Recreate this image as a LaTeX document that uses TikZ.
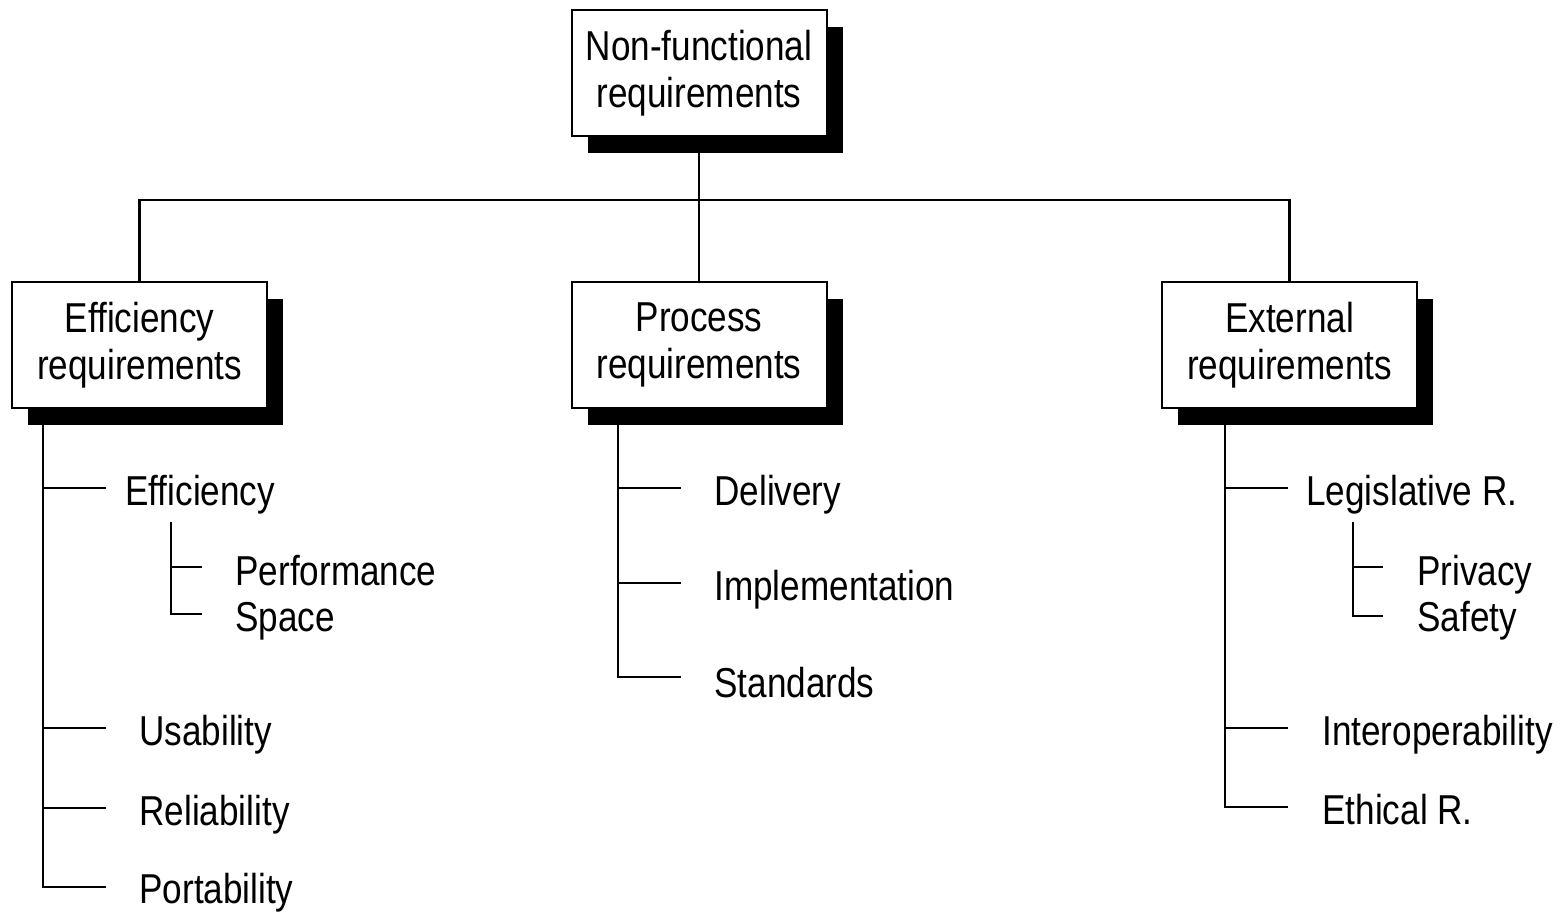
\documentclass[tikz,border=0pt]{standalone}
\usepackage{fontspec}
\setmainfont{Liberation Sans}[FakeStretch=0.84]
\usetikzlibrary{shadows}
\begin{document}
\begin{tikzpicture}[x=0.5pt,y=-0.5pt,
  txt/.style={font=\fontsize{20.9}{23.5}\selectfont},
  box/.style={txt, draw, fill=white, line width=1pt,
    minimum width=127.5pt, minimum height=63pt, inner sep=0pt, align=center,
    drop shadow={shadow xshift=8pt, shadow yshift=-8.5pt, fill=black, opacity=1}},
  item/.style={txt, anchor=base west, inner sep=0pt},
  link/.style={line width=1.1pt}]
\useasboundingbox (0,0) rectangle (1561,915);

% main boxes
\node[box] (top)  at (699,73)    {Non-functional\\requirements};
\node[box] (eff)  at (139.5,345) {Efficiency\\requirements};
\node[box] (proc) at (699,345)   {Process\\requirements};
\node[box] (ext)  at (1289.5,345){External\\requirements};

% top-level tree
\coordinate (bar) at (0,200);
\draw[link] (top.south) -- (proc.north);
\draw[link] (eff.north) |- (bar -| proc.north) -| (ext.north);

% efficiency branch
\coordinate (ex) at (43,0);
\coordinate (e1) at (106,488);
\coordinate (e2) at (106,728);
\coordinate (e3) at (106,808);
\coordinate (e4) at (106,887);
\foreach \b in {e1,e2,e3,e4} \draw[link] (eff.south -| ex) |- (\b);
\node[item] (n-eff)  at (125,505) {Efficiency};
\node[item] (n-usa)  at (139,745) {Usability};
\node[item] (n-rel)  at (139,825) {Reliability};
\node[item] (n-por)  at (139,903) {Portability};
\coordinate (sx) at (171,522);
\coordinate (s1) at (202,567);
\coordinate (s2) at (202,614);
\draw[link] (sx) |- (s1);
\draw[link] (sx) |- (s2);
\node[item] (n-perf) at (235,585) {Performance};
\node[item] (n-spc)  at (235,631) {Space};

% process branch
\coordinate (px) at (618,0);
\coordinate (p1) at (681,488);
\coordinate (p2) at (681,583);
\coordinate (p3) at (681,677);
\foreach \b in {p1,p2,p3} \draw[link] (proc.south -| px) |- (\b);
\node[item] (n-del) at (714,505) {Delivery};
\node[item] (n-imp) at (714,600) {Implementation};
\node[item] (n-std) at (714,697) {Standards};

% external branch
\coordinate (xx) at (1225,0);
\coordinate (x1) at (1288,488);
\coordinate (x2) at (1288,728);
\coordinate (x3) at (1288,807);
\foreach \b in {x1,x2,x3} \draw[link] (ext.south -| xx) |- (\b);
\node[item] (n-leg) at (1306,505) {Legislative R.};
\node[item] (n-int) at (1322,745) {Interoperability};
\node[item] (n-eth) at (1322,824) {Ethical R.};
\coordinate (lx) at (1353,522);
\coordinate (l1) at (1383,567);
\coordinate (l2) at (1383,616);
\draw[link] (lx) |- (l1);
\draw[link] (lx) |- (l2);
\node[item] (n-pri) at (1417,585) {Privacy};
\node[item] (n-saf) at (1417,631) {Safety};
\end{tikzpicture}
\end{document}
